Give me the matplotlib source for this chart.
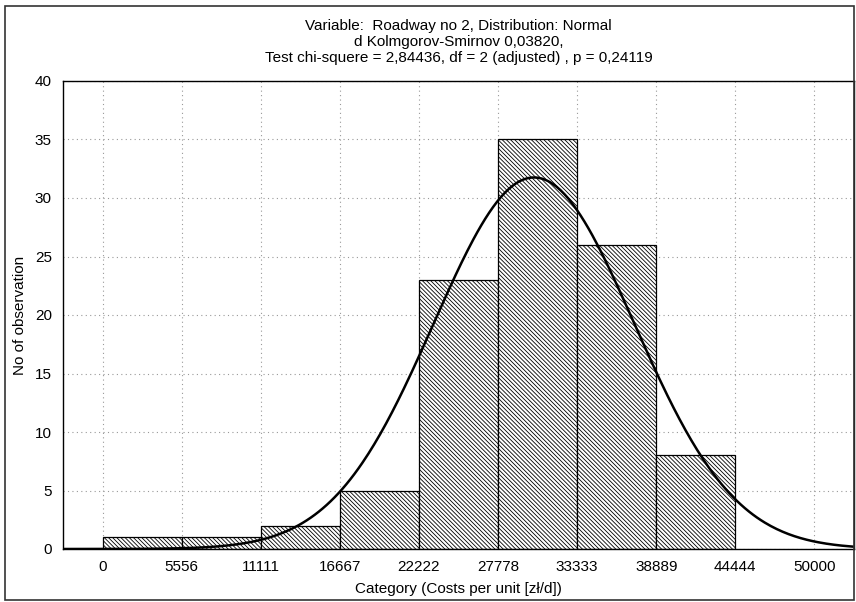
import numpy as np
import matplotlib.pyplot as plt
from matplotlib.patches import Rectangle

plt.rcParams['font.family'] = ['Liberation Sans', 'DejaVu Sans']
plt.rcParams['hatch.linewidth'] = 0.6

bin_starts = [0, 5556, 11111, 16667, 22222, 27778, 33333, 38889]
counts = [1, 1, 2, 5, 23, 35, 26, 8]
bin_width = 5556
tick_vals = [0, 5556, 11111, 16667, 22222, 27778, 33333, 38889, 44444, 50000]
tick_labels = ['0', '5556', '11111', '16667', '22222', '27778', '33333', '38889', '44444', '50000']
fit_mean = 30300
fit_sd = 7050

fig = plt.figure(figsize=(8.56, 6.02), dpi=100)
ax = fig.add_axes([63/856, 53/602, 791/856, 468/602])

# outer frame
fig.patches.append(Rectangle((5/856, 2/602), 849/856, 594/602, transform=fig.transFigure,
                             fill=False, edgecolor='#333333', linewidth=1.2))

ax.bar(bin_starts, counts, width=bin_width, align='edge', facecolor='white',
       edgecolor='black', hatch='\\' * 8, linewidth=0.9, zorder=2)

xs = np.linspace(-2778, 52778, 400)
n = sum(counts)
ys = n * bin_width / (fit_sd * np.sqrt(2 * np.pi)) * np.exp(-0.5 * ((xs - fit_mean) / fit_sd) ** 2)
ax.plot(xs, ys, color='black', linewidth=1.8, zorder=3)

ax.set_xlim(-2778, 52778)
ax.set_ylim(0, 40)
ax.set_xticks(tick_vals)
ax.set_xticklabels(tick_labels)
ax.set_yticks(range(0, 41, 5))
ax.tick_params(length=0, labelsize=11, pad=8)
ax.grid(True, linestyle=(0, (1, 3)), color='#999999', linewidth=0.8, zorder=0)
ax.set_axisbelow(True)
for s in ax.spines.values():
    s.set_linewidth(1.0)

ax.set_xlabel('Category (Costs per unit [zł/d])', fontsize=11, labelpad=6)
ax.set_ylabel('No of observation', fontsize=11, labelpad=6)
ax.set_title('Variable:  Roadway no 2, Distribution: Normal\n'
             'd Kolmgorov-Smirnov 0,03820,\n'
             'Test chi-squere = 2,84436, df = 2 (adjusted) , p = 0,24119',
             fontsize=11, linespacing=1.15, pad=14)

fig.savefig('out.png', dpi=100)
